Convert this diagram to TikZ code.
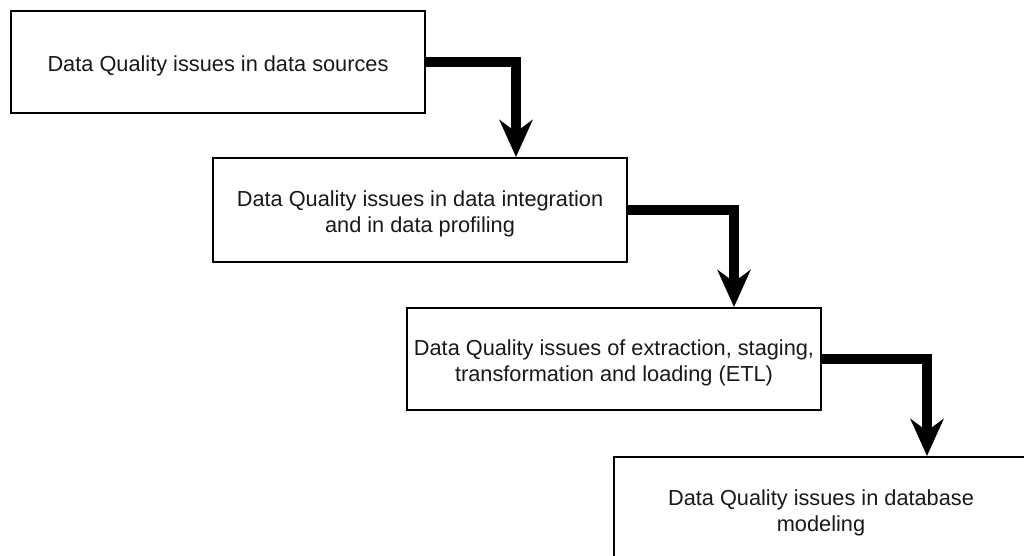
\documentclass[tikz,border=0pt]{standalone}
\usepackage{fontspec}
\setmainfont{Liberation Sans}
\usetikzlibrary{arrows.meta}
\begin{document}
\begin{tikzpicture}[x=1pt,y=-1pt,
  box/.style={draw=black, line width=2pt, fill=white, rectangle, minimum width=414pt, inner sep=0pt},
  txt/.style={align=center, inner sep=0pt, yshift=-4pt,
    font=\fontsize{21.75pt}{26.5pt}\selectfont, text=black!90},
  flow/.style={line width=10pt, -{Stealth[length=37pt,width=33pt,inset=12pt]}}]
\useasboundingbox (0,0) rectangle (1024,556);
\clip (0,0) rectangle (1024,556);
\fill[white] (0,0) rectangle (1024,556);
\node[box, minimum height=102pt, label={[txt]center:Data Quality issues in data sources}] (b1) at (218,62) {};
\node[box, minimum height=104pt, label={[txt]center:Data Quality issues in data integration\\and in data profiling}] (b2) at (420,210) {};
\node[box, minimum height=102pt, label={[txt]center:Data Quality issues of extraction, staging,\\transformation and loading (ETL)}] (b3) at (614,359) {};
\node[box, minimum height=104pt, label={[txt]center:Data Quality issues in database\\modeling}] (b4) at (821,509) {};
\draw[flow] (b1.east) -| ([xshift=304pt]b2.north west);
\draw[flow] (b2.east) -| ([xshift=328pt]b3.north west);
\draw[flow] (b3.east) -| ([xshift=314pt]b4.north west);
\end{tikzpicture}
\end{document}
